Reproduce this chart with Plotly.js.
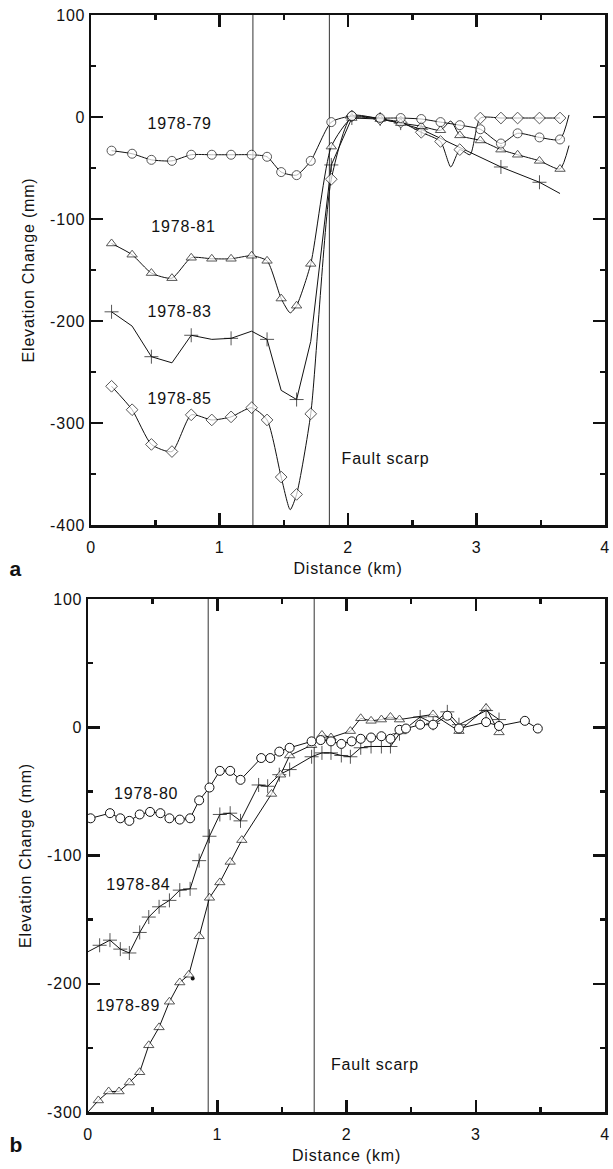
<!DOCTYPE html>
<html>
<head>
<meta charset="utf-8">
<script src="https://cdn.plot.ly/plotly-3.0.1.min.js"></script>
<style>
  html, body { margin: 0; padding: 0; background: #fff; }
  #chart { width: 613px; height: 1169px; }
  #chart text { letter-spacing: 0.8px; }
</style>
</head>
<body>
<div id="chart"></div>
<script>
// ---------------- Panel a data ----------------
const xA79 = [0.16,0.32,0.47,0.63,0.78,0.94,1.09,1.25,1.37,1.48,1.60,1.71,1.87,2.03,2.25,2.41,2.57,2.72,2.87,3.03,3.19,3.32,3.49,3.65,3.72];
const yA79 = [-33,-36,-42,-43,-37,-37,-37,-37,-39,-54,-57,-43,-5,1,-1,-1,-2,-5,-8,-12,-26,-16,-20,-22,2];
const mA79 = [1,1,1,1,1,1,1,1,1,1,1,1,1,1,1,1,1,1,1,1,1,1,1,1,0];

const xA81 = [0.16,0.32,0.47,0.63,0.78,0.94,1.09,1.25,1.37,1.48,1.55,1.60,1.71,1.87,2.03,2.25,2.41,2.57,2.72,2.80,2.87,3.03,3.19,3.32,3.49,3.65,3.72];
const yA81 = [-124,-135,-153,-158,-138,-139,-139,-136,-141,-178,-192,-185,-144,-29,-1,-2,-6,-9,-13,-4,-18,-23,-32,-37,-43,-51,-28];
const mA81 = [1,1,1,1,1,1,1,1,1,1,0,1,1,1,1,1,1,1,1,0,1,1,1,1,1,1,0];

const xA83 = [0.16,0.32,0.47,0.63,0.78,0.94,1.09,1.25,1.37,1.48,1.60,1.71,1.87,2.03,2.25,2.41,2.57,3.19,3.49,3.65];
const yA83 = [-191,-205,-235,-241,-214,-218,-217,-210,-218,-268,-277,-220,-47,-1,-2,-6,-12,-49,-64,-75];
const mA83 = [1,0,1,0,1,0,1,0,1,0,1,0,1,1,1,1,1,1,1,0];

const xA85 = [0.16,0.32,0.47,0.63,0.78,0.94,1.09,1.25,1.37,1.48,1.55,1.60,1.71,1.87,2.03,2.25,2.41,2.57,2.72,2.80,2.87,2.95,3.03,3.19,3.32,3.49,3.65];
const yA85 = [-264,-287,-321,-328,-292,-297,-294,-285,-297,-353,-385,-370,-291,-61,1,-2,-5,-15,-24,-49,-32,-37,-1,-1,-1,-1,-1];
const mA85 = [1,1,1,1,1,1,1,1,1,1,0,1,1,1,1,1,1,1,1,0,1,0,1,1,1,1,1];

// ---------------- Panel b data ----------------
const xB80 = [0.02,0.17,0.25,0.32,0.40,0.48,0.56,0.63,0.71,0.79,0.86,0.94,1.02,1.10,1.18,1.34,1.41,1.48,1.56,1.73,1.80,1.88,1.96,2.04,2.11,2.19,2.27,2.34,2.41,2.46,2.57,2.67,2.78,2.87,3.08,3.18,3.38,3.48];
const yB80 = [-71,-67,-71,-73,-68,-66,-67,-71,-72,-71,-57,-47,-34,-34,-41,-24,-24,-19,-16,-11,-10,-11,-13,-11,-9,-8,-7,-9,-2,-1,2,2,9,-1,4,1,5,-1];

const xB84 = [0.00,0.09,0.17,0.25,0.32,0.40,0.47,0.55,0.63,0.71,0.79,0.86,0.94,1.02,1.10,1.18,1.32,1.39,1.48,1.56,1.73,1.81,1.88,1.96,2.03,2.11,2.19,2.27,2.34,2.41,2.57,2.67,2.78,2.87,3.08,3.18];
const yB84 = [-175,-170,-166,-173,-176,-160,-148,-140,-135,-127,-126,-104,-85,-68,-67,-73,-45,-46,-37,-33,-23,-20,-20,-22,-23,-16,-15,-15,-15,-5,8,3,12,2,13,6];

const xB89 = [0.00,0.08,0.16,0.24,0.32,0.40,0.47,0.55,0.63,0.71,0.78,0.86,0.94,1.02,1.10,1.19,1.42,1.49,1.56,1.73,1.81,1.88,2.03,2.11,2.19,2.27,2.34,2.41,2.67,2.87,3.08,3.18];
const yB89 = [-300,-291,-284,-284,-277,-269,-248,-234,-214,-199,-193,-163,-133,-121,-105,-88,-52,-37,-22,-14,-6,-8,-3,7,5,6,8,6,10,-3,15,-4];

const xDotB = [0.81];
const yDotB = [-196];

// vertical fault-zone lines (km)
const faultLinesA = [1.26, 1.855];
const faultLinesB = [0.93, 1.75];

// axis ranges
const xRange = [0, 4];
const yRangeA = [-400, 100];
const yRangeB = [-300, 100];

// text labels
const labelsA = ['1978-79','1978-81','1978-83','1978-85'];
const labelXA = [0.69, 0.72, 0.69, 0.69];
const labelYA = [-8, -109, -192, -277];
const labelsB = ['1978-80','1978-84','1978-89'];
const labelXB = [0.45, 0.39, 0.31];
const labelYB = [-53, -124, -218];
const scarpText = 'Fault scarp';
const scarpA = [1.95, -336];
const scarpB = [1.88, -264];

const xTicks = [0,1,2,3,4];
const yTicksA = [100,0,-100,-200,-300,-400];
const yTicksB = [100,0,-100,-200,-300];

// ---------------- build ----------------
const BLACK = '#111';
function series(x, y, mask, symbol, size, xa, ya, shape) {
  const isLineSym = symbol.indexOf('cross-thin') === 0;
  return {
    type: 'scatter', mode: 'lines+markers', x: x, y: y, xaxis: xa, yaxis: ya,
    line: {color: BLACK, width: 1, shape: shape, smoothing: 0.6},
    marker: {
      symbol: symbol,
      size: mask ? mask.map(m => m ? size : 0) : size,
      color: isLineSym ? BLACK : 'white',
      line: {color: BLACK, width: 1}
    },
    hoverinfo: 'skip'
  };
}
function vlines(vals, yr, xa, ya) {
  const xs = [], ys = [];
  vals.forEach(v => { xs.push(v, v, null); ys.push(yr[0], yr[1], null); });
  return {type: 'scatter', mode: 'lines', x: xs, y: ys, xaxis: xa, yaxis: ya,
          line: {color: '#333', width: 1}, hoverinfo: 'skip'};
}
function texts(xs, ys, ts, xa, ya, pos) {
  return {type: 'scatter', mode: 'text', x: xs, y: ys, text: ts, xaxis: xa, yaxis: ya,
          textposition: pos, textfont: {size: 16, color: BLACK}, hoverinfo: 'skip'};
}

const traces = [
  vlines(faultLinesA, yRangeA, 'x', 'y'),
  vlines(faultLinesB, yRangeB, 'x2', 'y2'),
  series(xA83, yA83, mA83, 'cross-thin', 10, 'x', 'y', 'linear'),
  series(xA85, yA85, mA85, 'diamond', 9, 'x', 'y', 'spline'),
  series(xA81, yA81, mA81, 'triangle-up', 9, 'x', 'y', 'spline'),
  series(xA79, yA79, mA79, 'circle', 9, 'x', 'y', 'spline'),
  series(xB84, yB84, yB84.map((v,i)=> i===0?0:1), 'cross-thin', 10, 'x2', 'y2', 'linear'),
  series(xB89, yB89, yB89.map((v,i)=> i===0?0:1), 'triangle-up', 9, 'x2', 'y2', 'linear'),
  series(xB80, yB80, null, 'circle', 9, 'x2', 'y2', 'linear'),
  {type:'scatter', mode:'markers', x:xDotB, y:yDotB, xaxis:'x2', yaxis:'y2',
   marker:{color:BLACK, size:4}, hoverinfo:'skip'},
  texts(labelXA, labelYA, labelsA, 'x', 'y', 'middle center'),
  texts(labelXB, labelYB, labelsB, 'x2', 'y2', 'middle center'),
  texts([scarpA[0]], [scarpA[1]], [scarpText], 'x', 'y', 'middle right'),
  texts([scarpB[0]], [scarpB[1]], [scarpText], 'x2', 'y2', 'middle right')
];

const W = 613, H = 1169;
function xAxis(domain, anchor) {
  return {
    domain: domain, anchor: anchor, range: xRange,
    tickmode: 'array', tickvals: xTicks, ticktext: xTicks.map(String),
    showgrid: false, zeroline: false, showline: true, linewidth: 2.5, linecolor: BLACK, mirror: 'ticks',
    ticks: 'inside', ticklen: 12, tickwidth: 2.5, tickcolor: BLACK, ticklabelstandoff: 6,
    minor: {dtick: 0.5, ticklen: 5, tickwidth: 2.5, tickcolor: BLACK, ticks: 'inside'},
    tickfont: {size: 16, color: BLACK},
    title: {text: 'Distance (km)', font: {size: 16, color: BLACK}, standoff: 8},
    automargin: false
  };
}
function yAxis(domain, anchor, range, vals) {
  return {
    domain: domain, anchor: anchor, range: range,
    tickmode: 'array', tickvals: vals, ticktext: vals.map(String),
    showgrid: false, zeroline: false, showline: true, linewidth: 2.5, linecolor: BLACK, mirror: 'ticks',
    ticks: 'inside', ticklen: 12, tickwidth: 2.5, tickcolor: BLACK,
    minor: {dtick: 50, ticklen: 5, tickwidth: 2.5, tickcolor: BLACK, ticks: 'inside'},
    tickfont: {size: 16, color: BLACK},
    title: {text: 'Elevation Change (mm)', font: {size: 16, color: BLACK}, standoff: 15},
    automargin: false
  };
}

const annotations = [
  {text:'<b>a</b>', x:8/W, y:1-568/H, xref:'paper', yref:'paper', showarrow:false, xanchor:'left', font:{size:21, color:BLACK}},
  {text:'<b>b</b>', x:8/W, y:1-1158/H, xref:'paper', yref:'paper', showarrow:false, xanchor:'left', font:{size:21, color:BLACK}}
];

const layout = {
  width: W, height: H, margin: {l:0, r:0, t:0, b:0}, showlegend: false,
  font: {family: '"Liberation Sans", Arial, Helvetica, sans-serif', size: 16, color: BLACK},
  xaxis: xAxis([91/W, 605/W], 'y'),
  yaxis: yAxis([1-525/H, 1-15/H], 'x', yRangeA, yTicksA),
  xaxis2: xAxis([88/W, 605/W], 'y2'),
  yaxis2: yAxis([1-1112/H, 1-599/H], 'x2', yRangeB, yTicksB),
  annotations: annotations
};

Plotly.newPlot('chart', traces, layout, {staticPlot: true, displayModeBar: false}).then(gd => {
  // keep frame and tick layers on top of everything drawn inside the plots
  const cl = gd.querySelector('.cartesianlayer');
  if (!cl) return;
  Array.from(cl.querySelectorAll('.subplot')).forEach(sp => {
    Array.from(sp.children).forEach(el => {
      const c = el.getAttribute('class') || '';
      if (/(xlines-above|ylines-above|xaxislayer-above|yaxislayer-above)/.test(c)) cl.appendChild(el);
    });
  });
});
</script>
</body>
</html>
